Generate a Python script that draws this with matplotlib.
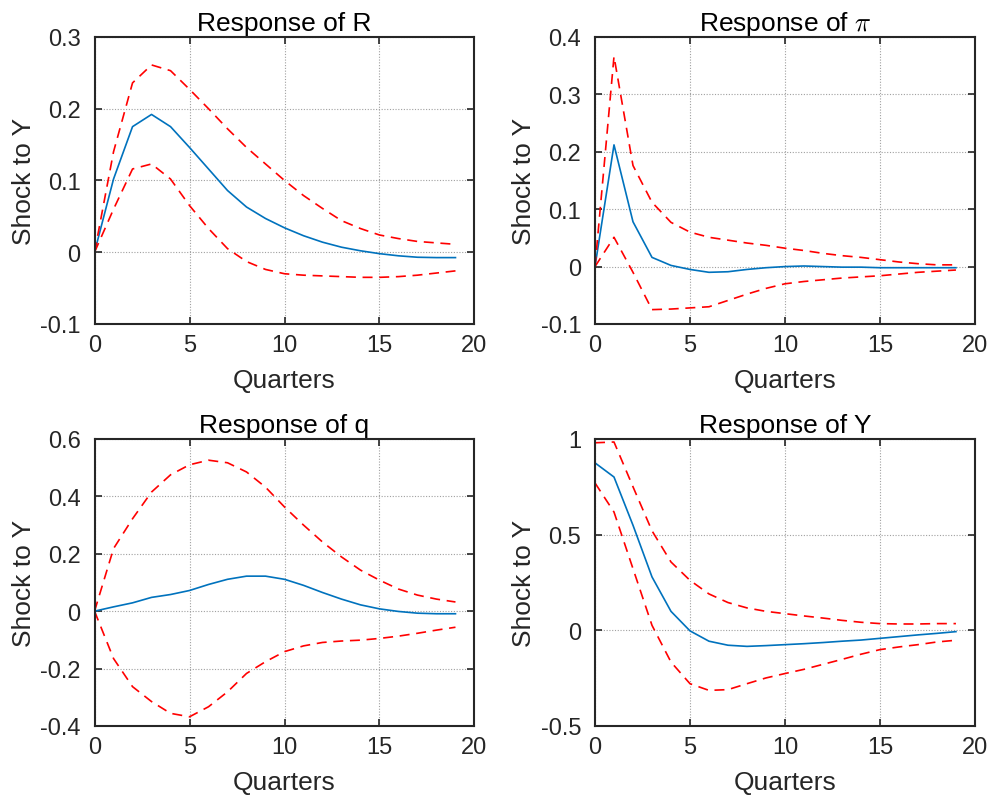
import matplotlib
matplotlib.use("Agg")
import matplotlib.pyplot as plt

plt.rcParams['font.family'] = ['Liberation Sans', 'DejaVu Sans']
plt.rcParams['axes.unicode_minus'] = False
plt.rcParams['mathtext.fontset'] = 'cm'

quarters = list(range(20))

# Response of R
r_mid = [0, 0.102, 0.175, 0.192, 0.175, 0.146, 0.116, 0.086, 0.063, 0.047,
         0.034, 0.023, 0.014, 0.007, 0.002, -0.002, -0.005, -0.007, -0.0075, -0.0075]
r_hi = [0, 0.14, 0.236, 0.261, 0.253, 0.227, 0.2, 0.172, 0.146, 0.123,
        0.1, 0.079, 0.061, 0.044, 0.033, 0.024, 0.019, 0.015, 0.013, 0.011]
r_lo = [0, 0.06, 0.116, 0.123, 0.102, 0.065, 0.033, 0.005, -0.013, -0.024,
        -0.03, -0.032, -0.033, -0.034, -0.035, -0.035, -0.034, -0.032, -0.029, -0.026]

# Response of pi
pi_mid = [0, 0.212, 0.078, 0.016, 0.002, -0.005, -0.010, -0.009, -0.005, -0.002,
          0, 0.001, 0, -0.001, -0.001, -0.002, -0.002, -0.002, -0.002, -0.002]
pi_hi = [0, 0.366, 0.176, 0.112, 0.077, 0.06, 0.051, 0.046, 0.041, 0.037,
         0.032, 0.028, 0.023, 0.019, 0.016, 0.012, 0.008, 0.005, 0.003, 0.003]
pi_lo = [0, 0.051, -0.010, -0.075, -0.074, -0.072, -0.07, -0.059, -0.048, -0.038,
         -0.030, -0.026, -0.023, -0.02, -0.018, -0.016, -0.013, -0.010, -0.008, -0.006]

# Response of q
q_mid = [0, 0.015, 0.029, 0.048, 0.058, 0.072, 0.093, 0.111, 0.122, 0.122,
         0.111, 0.09, 0.065, 0.042, 0.022, 0.008, -0.001, -0.007, -0.009, -0.009]
q_hi = [0, 0.218, 0.322, 0.415, 0.475, 0.51, 0.526, 0.517, 0.485, 0.432,
        0.363, 0.3, 0.241, 0.189, 0.143, 0.108, 0.077, 0.056, 0.042, 0.032]
q_lo = [0, -0.165, -0.263, -0.315, -0.356, -0.368, -0.333, -0.281, -0.217, -0.176,
        -0.141, -0.121, -0.109, -0.104, -0.101, -0.095, -0.087, -0.077, -0.066, -0.056]

# Response of Y
y_mid = [0.875, 0.801, 0.549, 0.279, 0.099, -0.003, -0.057, -0.078, -0.084, -0.08,
         -0.075, -0.07, -0.064, -0.057, -0.051, -0.042, -0.033, -0.024, -0.016, -0.007]
y_hi = [0.98, 0.984, 0.75, 0.52, 0.357, 0.261, 0.19, 0.145, 0.117, 0.099,
        0.087, 0.075, 0.064, 0.052, 0.042, 0.035, 0.033, 0.033, 0.035, 0.035]
y_lo = [0.77, 0.618, 0.322, 0.026, -0.166, -0.279, -0.314, -0.31, -0.279, -0.249,
        -0.226, -0.204, -0.178, -0.152, -0.125, -0.101, -0.087, -0.075, -0.061, -0.052]

panels = [
    ("Response of R", r_mid, r_hi, r_lo, [-0.1, 0, 0.1, 0.2, 0.3], ["-0.1", "0", "0.1", "0.2", "0.3"]),
    ("Response of $\\pi$", pi_mid, pi_hi, pi_lo, [-0.1, 0, 0.1, 0.2, 0.3, 0.4],
     ["-0.1", "0", "0.1", "0.2", "0.3", "0.4"]),
    ("Response of q", q_mid, q_hi, q_lo, [-0.4, -0.2, 0, 0.2, 0.4, 0.6],
     ["-0.4", "-0.2", "0", "0.2", "0.4", "0.6"]),
    ("Response of Y", y_mid, y_hi, y_lo, [-0.5, 0, 0.5, 1], ["-0.5", "0", "0.5", "1"]),
]
xticks = [0, 5, 10, 15, 20]

fig = plt.figure(figsize=(9.92, 8.04), dpi=100)
lefts = [0.0953, 0.5998]
bottoms = [0.5958, 0.0958]
dark = '#262626'

for i, (title, mid, hi, lo, yt, ytl) in enumerate(panels):
    ax = fig.add_axes([lefts[i % 2], bottoms[i // 2], 0.383, 0.357])
    ax.plot(quarters, mid, '-', color='#0072BD', lw=1.2)
    ax.plot(quarters, hi, '--', color='r', lw=1.2, dashes=(6, 4))
    ax.plot(quarters, lo, '--', color='r', lw=1.2, dashes=(6, 4))
    ax.set_xlim(0, 20)
    ax.set_ylim(yt[0], yt[-1])
    ax.set_xticks(xticks)
    ax.set_xticklabels([str(t) for t in xticks])
    ax.set_yticks(yt)
    ax.set_yticklabels(ytl)
    ax.grid(True, linestyle=(0, (1, 1.5)), color='#a0a0a0', lw=0.8)
    ax.tick_params(direction='in', top=True, right=True, length=5, width=1.2,
                   labelsize=17, colors=dark)
    ax.tick_params(axis='x', pad=7)
    ax.tick_params(axis='y', pad=10)
    for s in ax.spines.values():
        s.set_linewidth(1.5)
        s.set_color(dark)
    ax.set_title(title, fontsize=19, color='k', pad=5)
    ax.set_xlabel('Quarters', fontsize=19, color=dark, labelpad=9)
    ax.set_ylabel('Shock to Y', fontsize=19, color=dark, labelpad=3)

fig.savefig('out.png', dpi=100)
